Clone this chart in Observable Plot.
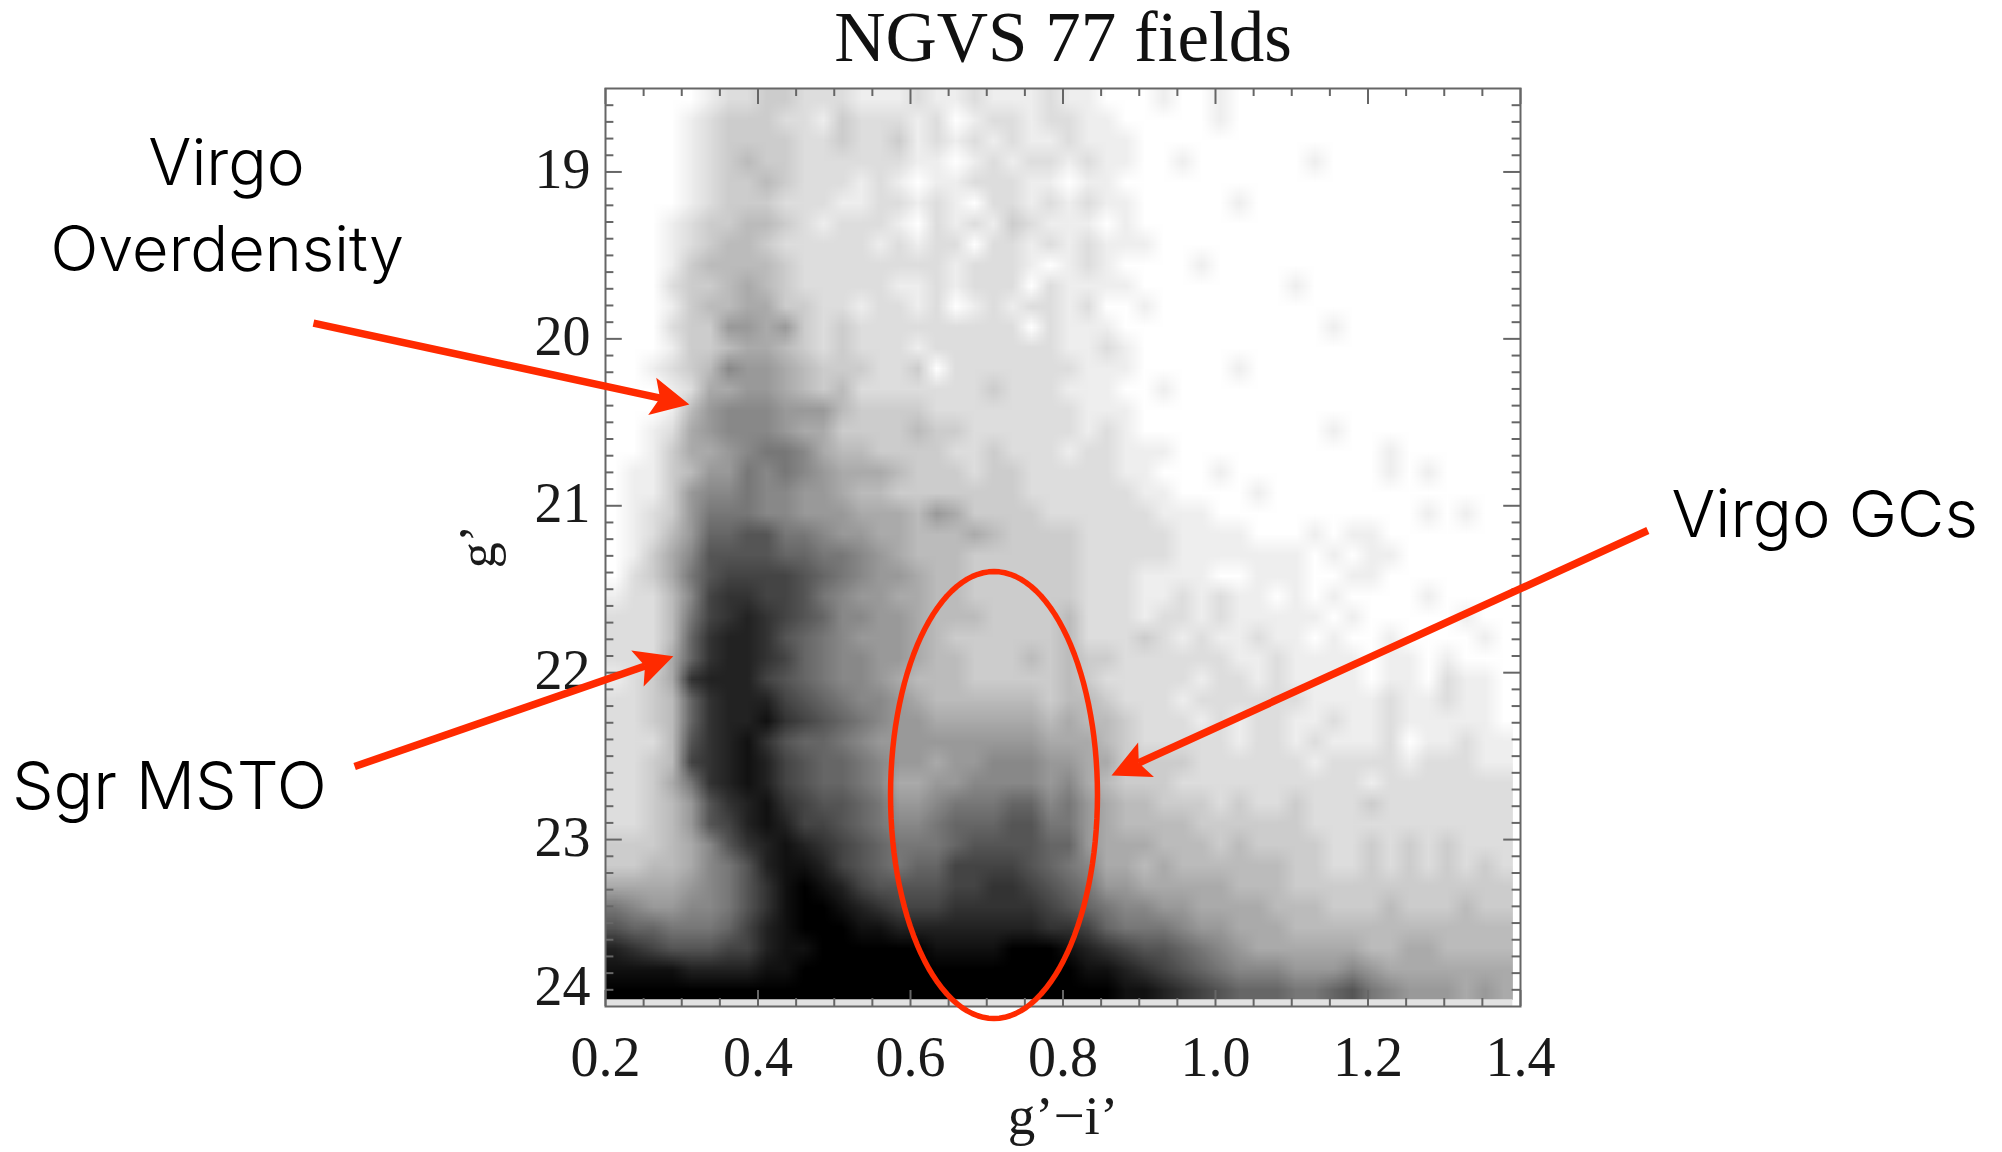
<!DOCTYPE html>
<html>
<head>
<meta charset="utf-8">
<script src="https://cdn.jsdelivr.net/npm/d3@7"></script>
<script src="https://cdn.jsdelivr.net/npm/@observablehq/plot@0.6"></script>
<style>html,body{margin:0;padding:0;background:#fff}svg{display:block}</style>
</head>
<body>
<div id="chart"></div>
<script>
// Hess-diagram density: one hex digit per bin (0 white … f black),
// rows from g'=18.5 down to 24, columns from g'-i'=0.2 to 1.4.
const densityRows = [
"000001223322 211121121112 110001001000 000000000000",
"000012333221 322212012212 211000001000 000000000000",
"000012333322 322312121211 211100000000 000000000000",
"000012343322 222211012122 121100100000 010000000000",
"000012334322 212101122211 011000000000 000000000000",
"000012333222 112212102212 121100000100 000000000000",
"000123344321 222102121321 110100000000 000000000000",
"000123443222 221212202212 121110000000 000000000000",
"000134444322 222222122210 121000010000 000000000000",
"000233454322 222112122202 111100000000 100000000000",
"000134455332 212212012122 120010000000 000000000000",
"000233665632 322222222202 111000000000 001000000000",
"000133455432 322212222222 112100000000 000000000000",
"001234766543 332230222222 211100000100 000000000000",
"000125566543 422222223222 111001000000 000000000000",
"000146777666 433332222222 211100000000 000000000000",
"001256777655 333343322222 212100000000 001000000000",
"001355678875 443333223222 122111000000 000001000000",
"011346687876 555433323322 222110001000 000001010000",
"011367787766 544333333322 222211000010 000000000000",
"012368887766 655546533332 222221110000 000000010100",
"0124699aa887 665544454333 322222111100 010110000000",
"01357aaaa998 876544433333 322222111111 101011000000",
"02358abbbba9 876654433333 322211110011 100110000000",
"12247bccbba8 766554433333 322211212110 101000010000",
"22248bcdcba9 776654443333 422212212111 110100000100",
"22249cddca98 766654333333 422232121121 101001000010",
"22259cddcb98 776654433343 433222222112 111101101000",
"1235cdddba98 776544433333 432222212212 111101102110",
"22349cdddba9 877654444443 443222122222 211112112110",
"22349cddecba 987665555554 544322212122 112112111110",
"2224acdeca99 876666666665 554322222122 121112011211",
"2234bcdedba9 987665667776 655333322222 212222122211",
"22358cdedba9 987556677776 754333222222 222212222222",
"22346acdecba a98667888997 865443332322 322232222222",
"22346abdedbb a98778999aa8 865444433333 322222222222",
"333457acdedc ba98889aaaa9 965554443433 332232323222",
"3344578adeed ba9899bbbba9 875545444444 332232323232",
"5555678acefe dbaaaabbccba 986655555444 333333333333",
"8766778aceff edcbbbcccccb a98776655554 443334333433",
"a998889bdeff feeddddddddc cb9888766555 444444444444",
"dcbaaabbdeef fffffeeeefff edcbaa987655 555544554444",
"eeeeddddeeff ffffffffffff feedcba98777 666765555555",
"ffffffffffff ffffffffffff fffeedcba999 889a87666565"
];

// Axes
const xDomain = [0.2, 1.4];
const yDomain = [24, 18.5];
const xMajor = [0.2, 0.4, 0.6, 0.8, 1.0, 1.2, 1.4];
const xMinor = [0.25,0.3,0.35,0.45,0.5,0.55,0.65,0.7,0.75,0.85,0.9,0.95,1.05,1.1,1.15,1.25,1.3,1.35];
const yMajor = [19, 20, 21, 22, 23];
const yMinor = [18.6,18.7,18.8,18.9,19.1,19.2,19.3,19.4,19.5,19.6,19.7,19.8,19.9,20.1,20.2,20.3,20.4,20.5,20.6,20.7,20.8,20.9,21.1,21.2,21.3,21.4,21.5,21.6,21.7,21.8,21.9,22.1,22.2,22.3,22.4,22.5,22.6,22.7,22.8,22.9,23.1,23.2,23.3,23.4,23.5,23.6,23.7,23.8,23.9];

// Text
const titleLabel = [{text: "NGVS 77 fields", x: 0.8, y: 18.198}];
const xLabel = [{text: "g’−i’", x: 0.8, y: 24.659}];
const yLabel = [{text: "g’", x: 0.0334, y: 21.244}];
const lastYTick = [{text: "24", x: 0.1803, y: 23.886}];
const notes = [
  {text: "Virgo", x: -0.297, y: 18.955, size: 64},
  {text: "Overdensity", x: -0.296, y: 19.47, size: 63},
  {text: "Sgr MSTO", x: -0.372, y: 22.688, size: 66},
  {text: "Virgo GCs", x: 1.799, y: 21.064, size: 65}
];

// Annotation arrows, in chart units: tail, shaft end, tip, heading in degrees
const arrows = [
  {x1: -0.183, y1: 19.906, x2: 0.272, y2: 20.355, tx: 0.310, ty: 20.393, heading: 102.2},
  {x1: -0.129, y1: 22.562, x2: 0.252, y2: 21.960, tx: 0.289, ty: 21.901, heading: 71},
  {x1: 1.567, y1: 21.148, x2: 0.899, y2: 22.541, tx: 0.8636, ty: 22.616, heading: -114.6}
];
// Ellipse round the Virgo GCs, in chart units
const gcRing = {cx: 0.7095, cy: 22.733, rx: 0.1357, ry: 1.339};

const serif = "'Liberation Serif', serif";
const sans = "Inter, sans-serif";
const red = "#ff2a00";
const tickColor = "#666";

const flat = densityRows.flatMap(r => Array.from(r.replace(/ /g, ""), c => parseInt(c, 16)));
const ringPts = d3.range(0, 121).map(i => {
  const a = i / 120 * 2 * Math.PI;
  return [gcRing.cx + gcRing.rx * Math.cos(a), gcRing.cy + gcRing.ry * Math.sin(a)];
});
const head = {draw(c) { c.moveTo(0, 0); c.lineTo(19, 38); c.lineTo(0, 30); c.lineTo(-19, 38); c.closePath(); }};

const chart = Plot.plot({
  width: 2002, height: 1152,
  marginLeft: 605, marginRight: 482, marginTop: 88, marginBottom: 146,
  style: {background: "white", overflow: "visible"},
  x: {domain: xDomain, label: null},
  y: {domain: yDomain, label: null},
  color: {type: "linear", domain: [0, 15], range: ["#ffffff", "#000000"], interpolate: "rgb"},
  marks: [
    Plot.raster(flat, {width: 48, height: 44, x1: 0.2, x2: 1.39, y1: 18.5, y2: 23.96, fill: d => d, imageRendering: "auto"}),
    Plot.rect([{}], {x1: 0.2, x2: 1.39, y1: 23.96, y2: 24, fill: "#e2e2e2"}),
    Plot.ruleX(xMajor, {y1: 24, y2: 23.904, stroke: tickColor, strokeWidth: 2}),
    Plot.ruleX(xMinor, {y1: 24, y2: 23.952, stroke: tickColor, strokeWidth: 2}),
    Plot.ruleX(xMajor, {y1: 18.5, y2: 18.596, stroke: tickColor, strokeWidth: 2}),
    Plot.ruleX(xMinor, {y1: 18.5, y2: 18.548, stroke: tickColor, strokeWidth: 2}),
    Plot.ruleY(yMajor, {x1: 0.2, x2: 0.222, stroke: tickColor, strokeWidth: 2}),
    Plot.ruleY(yMinor, {x1: 0.2, x2: 0.211, stroke: tickColor, strokeWidth: 2}),
    Plot.ruleY(yMajor, {x1: 1.4, x2: 1.378, stroke: tickColor, strokeWidth: 2}),
    Plot.ruleY(yMinor, {x1: 1.4, x2: 1.389, stroke: tickColor, strokeWidth: 2}),
    Plot.frame({stroke: tickColor, strokeWidth: 2}),
    Plot.axisX({anchor: "bottom", ticks: xMajor, tickSize: 0, tickPadding: 30, tickFormat: d3.format(".1f"), fontSize: 56, fontFamily: serif, color: "#1a1a1a", label: null}),
    Plot.axisY({anchor: "left", ticks: yMajor, tickSize: 0, tickPadding: 15, tickFormat: d => String(d), fontSize: 56, fontFamily: serif, color: "#1a1a1a", label: null, dy: -2}),
    Plot.text(lastYTick, {x: "x", y: "y", text: "text", textAnchor: "end", lineAnchor: "middle", fontSize: 56, fontFamily: serif, fill: "#1a1a1a"}),
    Plot.text(titleLabel, {x: "x", y: "y", text: "text", lineAnchor: "middle", fontSize: 71, fontFamily: serif, fill: "#111"}),
    Plot.text(xLabel, {x: "x", y: "y", text: "text", lineAnchor: "middle", fontSize: 55, fontFamily: serif, fill: "#1a1a1a"}),
    Plot.text(yLabel, {x: "x", y: "y", text: "text", rotate: -90, lineAnchor: "middle", fontSize: 52, fontFamily: serif, fill: "#1a1a1a"}),
    Plot.text(notes, {x: "x", y: "y", text: "text", lineAnchor: "middle", fontSize: "size", fontFamily: sans, fontWeight: 300, fill: "#000"}),
    Plot.line(ringPts, {x: "0", y: "1", stroke: red, strokeWidth: 5.5, curve: "linear"}),
    Plot.link(arrows, {x1: "x1", y1: "y1", x2: "x2", y2: "y2", stroke: red, strokeWidth: 7.5}),
    Plot.dot(arrows, {x: "tx", y: "ty", r: 10, symbol: head, rotate: "heading", fill: red, stroke: "none"})
  ]
});
document.getElementById("chart").append(chart);
</script>
</body>
</html>
